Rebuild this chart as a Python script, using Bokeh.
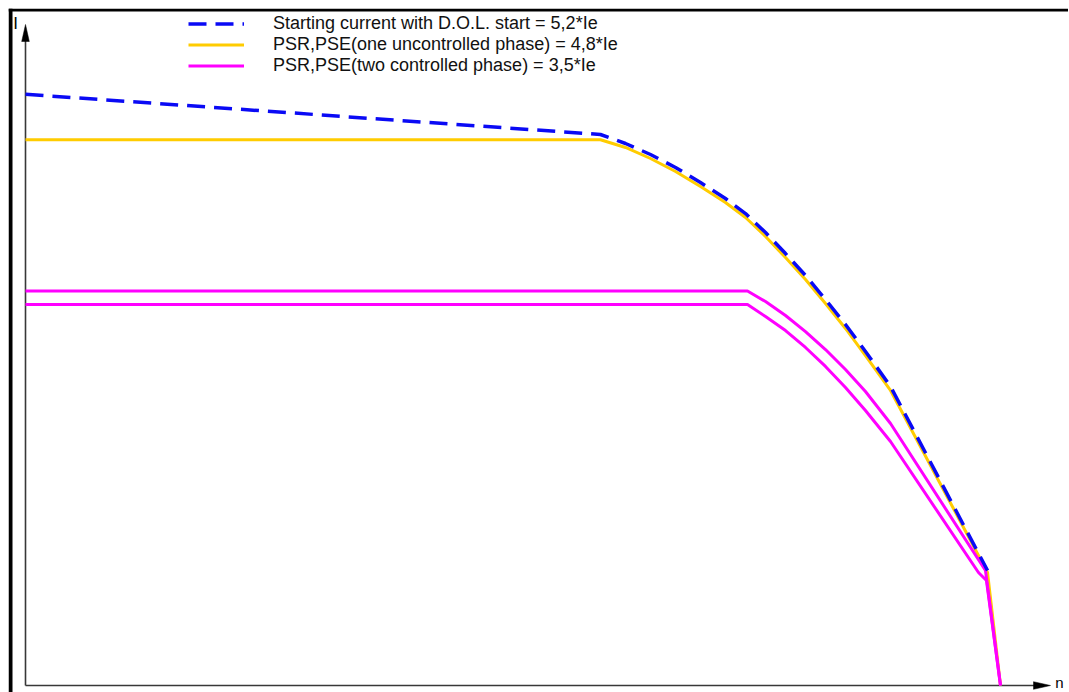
from bokeh.plotting import figure
from bokeh.models import Range1d, Legend, LegendItem, BoxAnnotation
from bokeh.core.properties import value
from bokeh.embed import file_html
from bokeh.resources import INLINE

# n = speed (fraction of synchronous speed), I = current (multiples of Ie)
dol_n = [0.0, 0.5897, 0.6154, 0.6410, 0.6667, 0.6923, 0.7179, 0.7385, 0.7590,
         0.7795, 0.8000, 0.8205, 0.8410, 0.8615, 0.8872, 0.9867]
dol_i = [5.20, 4.846, 4.767, 4.670, 4.556, 4.424, 4.283, 4.151, 3.984,
         3.799, 3.606, 3.395, 3.175, 2.938, 2.630, 1.011]

one_n = [0.0, 0.5897, 0.6154, 0.6410, 0.6667, 0.6923, 0.7179, 0.7385, 0.7590,
         0.7795, 0.8000, 0.8205, 0.8410, 0.8615, 0.8872, 0.9867, 1.0]
one_i = [4.80, 4.80, 4.732, 4.635, 4.521, 4.389, 4.248, 4.116, 3.949,
         3.764, 3.571, 3.360, 3.140, 2.902, 2.595, 0.994, 0.0]

two_hi_n = [0.0, 0.7405, 0.7590, 0.7795, 0.8000, 0.8205, 0.8410, 0.8615, 0.8872, 0.9846, 1.0]
two_hi_i = [3.47, 3.47, 3.377, 3.254, 3.113, 2.955, 2.779, 2.586, 2.304, 1.011, 0.0]

two_lo_n = [0.0, 0.7405, 0.7590, 0.7795, 0.8000, 0.8205, 0.8410, 0.8615, 0.8872, 0.9774, 0.9856, 1.0]
two_lo_i = [3.35, 3.35, 3.245, 3.122, 2.973, 2.806, 2.621, 2.419, 2.146, 0.994, 0.923, 0.0]

labels = [
    "Starting current with D.O.L. start = 5,2*Ie",
    "PSR,PSE(one uncontrolled phase) = 4,8*Ie",
    "PSR,PSE(two controlled phase) = 3,5*Ie",
]
axis_labels = ["I", "n"]

FONT = value("Liberation Sans")
BLUE = "#0a0af5"
YELLOW = "#ffcc00"
MAGENTA = "#ff00ff"
AXIS = "#383838"

# page layout (pixels)
W, H = 1068, 692
FRAME_L, FRAME_T = 8, 8
ORIGIN_X, ORIGIN_Y = 25, 685        # page position of n=0, I=0
PX_N, PX_I = 975.0, 113.7           # pixels per unit of n and of I

X0 = (FRAME_L - ORIGIN_X) / PX_N
X1 = (W - ORIGIN_X) / PX_N
Y1 = (ORIGIN_Y - FRAME_T) / PX_I
Y0 = (ORIGIN_Y - H) / PX_I

# axis tips
X_TIP = (1050 - ORIGIN_X) / PX_N
Y_TIP = (ORIGIN_Y - 24) / PX_I

p = figure(width=W, height=H, output_backend="svg", toolbar_location=None,
           x_range=Range1d(X0, X1), y_range=Range1d(Y0, Y1),
           x_axis_location=None, y_axis_location=None,
           min_border_left=FRAME_L, min_border_top=FRAME_T,
           min_border_right=0, min_border_bottom=0,
           border_fill_color="white", background_fill_color="white",
           outline_line_color=None)
p.xgrid.visible = False
p.ygrid.visible = False

# black frame edges (left and top)
p.add_layout(BoxAnnotation(right=X0 + 4 / PX_N, fill_color="black", fill_alpha=1,
                           line_color=None, level="underlay"))
p.add_layout(BoxAnnotation(bottom=Y1 - 3 / PX_I, fill_color="black", fill_alpha=1,
                           line_color=None, level="underlay"))

# axes with arrows
hl, hw = 17, 3.8
p.line([0, 0], [0, Y_TIP - hl / PX_I * 0.6], line_color=AXIS, line_width=1.6)
p.line([0, X_TIP - hl / PX_N * 0.6], [0, 0], line_color=AXIS, line_width=1.6)
p.patch([0, -hw / PX_N, hw / PX_N], [Y_TIP, Y_TIP - hl / PX_I, Y_TIP - hl / PX_I],
        fill_color="black", line_color="black", line_width=0.5)
p.patch([X_TIP, X_TIP - hl / PX_N, X_TIP - hl / PX_N], [0, hw / PX_I, -hw / PX_I],
        fill_color="black", line_color="black", line_width=0.5)
p.text(x=[-10 / PX_N], y=[Y_TIP + 1 / PX_I], text=[axis_labels[0]], text_font=FONT,
       text_font_size="17px", text_align="center", text_baseline="middle", text_color="black")
p.text(x=[X_TIP + 9 / PX_N], y=[3 / PX_I], text=[axis_labels[1]], text_font=FONT,
       text_font_size="15px", text_align="center", text_baseline="middle", text_color="black")

r_one = p.line(one_n, one_i, line_color=YELLOW, line_width=3)
r_lo = p.line(two_lo_n, two_lo_i, line_color=MAGENTA, line_width=3)
r_hi = p.line(two_hi_n, two_hi_i, line_color=MAGENTA, line_width=3)
r_dol = p.line(dol_n, dol_i, line_color=BLUE, line_width=3.5, line_dash="18 9")

legend = Legend(
    items=[LegendItem(label=labels[0], renderers=[r_dol]),
           LegendItem(label=labels[1], renderers=[r_one]),
           LegendItem(label=labels[2], renderers=[r_hi])],
    location=(180, 616), orientation="vertical", padding=0, margin=0, spacing=0,
    glyph_width=56, glyph_height=21, label_height=21, label_standoff=29,
    label_text_font="Liberation Sans", label_text_font_size="18px",
    label_text_color="#111111",
    border_line_color=None, background_fill_alpha=0,
)
p.add_layout(legend, "center")

open("out.html", "w").write(file_html(p, INLINE))
